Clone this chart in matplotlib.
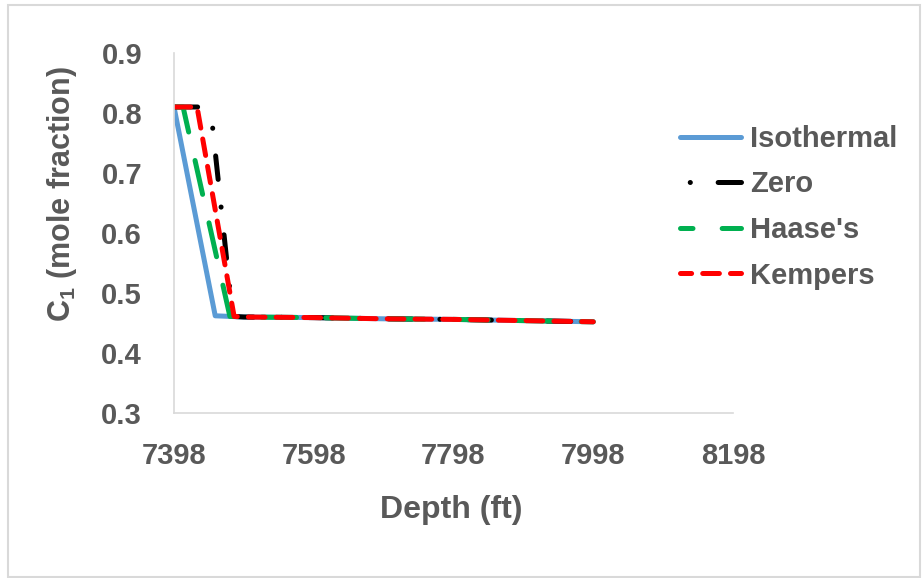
import matplotlib
matplotlib.use("Agg")
import matplotlib.pyplot as plt
from matplotlib.patches import Rectangle

plt.rcParams["font.family"] = ["Liberation Sans", "DejaVu Sans"]
plt.rcParams["font.weight"] = "bold"
plt.rcParams["mathtext.fontset"] = "custom"
plt.rcParams["mathtext.rm"] = "Liberation Sans:bold"
plt.rcParams["mathtext.bf"] = "Liberation Sans:bold"
plt.rcParams["lines.scale_dashes"] = False

# depth (ft) and C1 mole fraction
iso_depth = [7398, 7457, 7498, 7598, 7698, 7798, 7898, 7998]
iso_c1 = [0.81, 0.462, 0.460, 0.459, 0.457, 0.456, 0.454, 0.452]

zero_depth = [7398, 7432, 7452, 7482, 7498, 7598, 7698, 7798, 7898, 7998]
zero_c1 = [0.81, 0.81, 0.79, 0.461, 0.460, 0.459, 0.457, 0.456, 0.454, 0.452]

haase_depth = [7398, 7411, 7478, 7498, 7598, 7698, 7798, 7898, 7998]
haase_c1 = [0.81, 0.81, 0.461, 0.460, 0.459, 0.457, 0.456, 0.454, 0.452]

kempers_depth = [7398, 7431, 7484, 7498, 7598, 7698, 7798, 7898, 7998]
kempers_c1 = [0.81, 0.81, 0.461, 0.460, 0.459, 0.457, 0.456, 0.454, 0.452]

x_ticks = [7398, 7598, 7798, 7998, 8198]
y_ticks = [0.3, 0.4, 0.5, 0.6, 0.7, 0.8, 0.9]

gray = "#595959"
W, H = 922, 578

fig = plt.figure(figsize=(W / 100, H / 100), dpi=100)
ax = fig.add_axes([174 / W, 1 - 413 / H, (733 - 174) / W, (413 - 53) / H])

lw = 3.6
ax.plot(iso_depth, iso_c1, color="#5B9BD5", lw=lw, label="Isothermal",
        solid_capstyle="round", solid_joinstyle="round")
ax.plot(zero_depth, zero_c1, color="black", lw=lw, label="Zero",
        linestyle=(0, (17, 20, 0.1, 20)), dash_capstyle="round")
ax.plot(haase_depth, haase_c1, color="#00B050", lw=lw, label="Haase's",
        linestyle=(0, (25, 21)), dash_capstyle="round")
ax.plot(kempers_depth, kempers_c1, color="#FF0000", lw=lw, label="Kempers",
        linestyle=(0, (12, 8)), dash_capstyle="round")

ax.set_xlim(7398, 8198)
ax.set_ylim(0.3, 0.9)
ax.set_xticks(x_ticks)
ax.set_yticks(y_ticks)
ax.set_xticklabels([str(v) for v in x_ticks])
ax.set_yticklabels([f"{v:.1f}" for v in y_ticks])
ax.tick_params(length=0, labelsize=21, labelcolor=gray)
ax.tick_params(axis="y", pad=23)
ax.tick_params(axis="x", pad=21)
for s in ["top", "right"]:
    ax.spines[s].set_visible(False)
for s in ["left", "bottom"]:
    ax.spines[s].set_color("#D9D9D9")
    ax.spines[s].set_linewidth(1.2)

fig.text(451 / W, 1 - 510 / H, "Depth (ft)", fontsize=23, color=gray,
         ha="center", va="center")
fig.text(62 / W, 1 - 194 / H, r"C$_\mathbf{1}$ (mole fraction)", fontsize=22,
         color=gray, rotation=90, ha="center", va="center")

leg = fig.legend(loc="upper left", bbox_to_anchor=(680 / W, 1 - 125 / H),
                 frameon=False, fontsize=21, handlelength=2.1,
                 handletextpad=0.3, labelspacing=0.6, borderpad=0,
                 borderaxespad=0)
for t in leg.get_texts():
    t.set_color(gray)
# legend handles in the reference start mid-pattern
dash_offsets = {"Zero": (30, (17, 20, 0.1, 20)), "Haase's": (16, (25, 21)),
                "Kempers": (4, (12, 8))}
for h, t in zip(leg.legend_handles, leg.get_texts()):
    if t.get_text() in dash_offsets:
        h.set_linestyle(dash_offsets[t.get_text()])

fig.patches.append(Rectangle((8 / W, 1 - 577 / H), (920 - 8) / W, (577 - 5) / H,
                             transform=fig.transFigure, fill=False,
                             edgecolor="#D9D9D9", lw=1.5))

fig.savefig("out.png", dpi=100)
